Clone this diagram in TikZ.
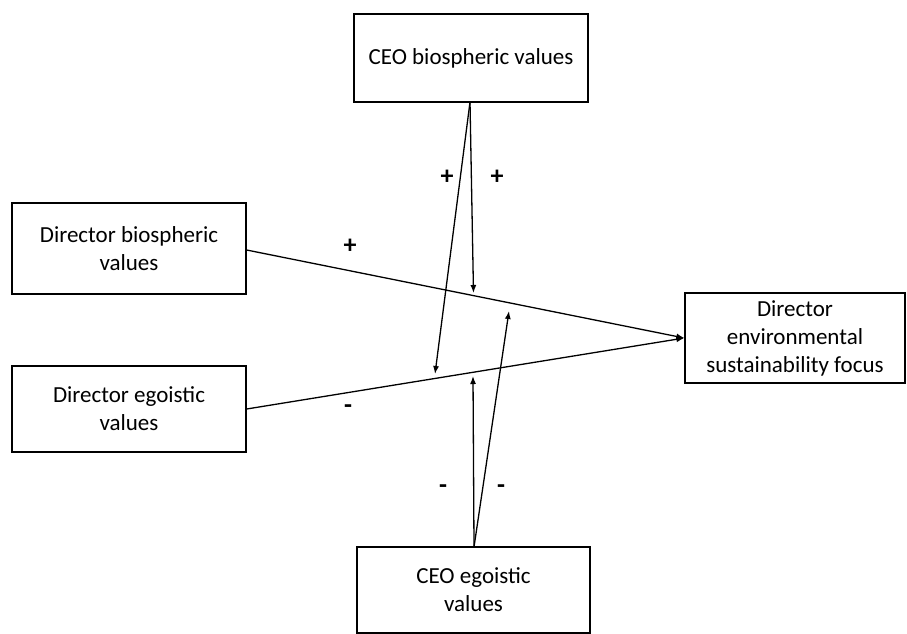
\documentclass[tikz,border=0pt]{standalone}
\usepackage{fontspec}
\setmainfont{Carlito}
\usetikzlibrary{arrows.meta}
\begin{document}
\begin{tikzpicture}[x=1pt,y=-1pt,
  box/.style={draw, line width=1.3pt, align=center, inner sep=0pt,
    font=\fontsize{23}{28}\selectfont},
  conn/.style={line width=1.3pt, -{Latex[length=8pt,width=6pt]}},
  sign/.style={font=\fontsize{26}{28}\selectfont\bfseries}]
\useasboundingbox (0,0) rectangle (907,633);
\node[box, minimum width=234pt, minimum height=88pt] (ceob) at (471,58) {CEO biospheric values};
\node[box, minimum width=234pt, minimum height=91pt] (dirb) at (129,248.5) {Director biospheric\\values};
\node[box, minimum width=234pt, minimum height=86pt] (dire) at (129,409) {Director egoistic\\values};
\node[box, minimum width=220pt, minimum height=90pt] (focus) at (795,338) {Director\\environmental\\sustainability focus};
\node[box, minimum width=233pt, minimum height=86pt] (ceoe) at (473.5,590) {CEO egoistic\\values};
\coordinate (b1) at (473.5,293);
\coordinate (b2) at (435,374);
\coordinate (e1) at (473,376);
\coordinate (e2) at (509,311);
\coordinate (ceobs) at (470,102);
\coordinate (ceoen) at (474,547);
\draw[conn] (dirb.east |- 0,250) -- (focus.west);
\draw[conn] (dire.east) -- (focus.west);
\draw[conn] (ceobs) -- (b1);
\draw[conn] (ceobs) -- (b2);
\draw[conn] (ceoen) -- (e1);
\draw[conn] (ceoen) -- (e2);
\node[sign] (p1) at (447,177) {+};
\node[sign] (p2) at (497,177) {+};
\node[sign] (p3) at (350,246) {+};
\node[sign] (m1) at (348,409) {-};
\node[sign] (m2) at (443,489) {-};
\node[sign] (m3) at (501,489) {-};
\end{tikzpicture}
\end{document}
